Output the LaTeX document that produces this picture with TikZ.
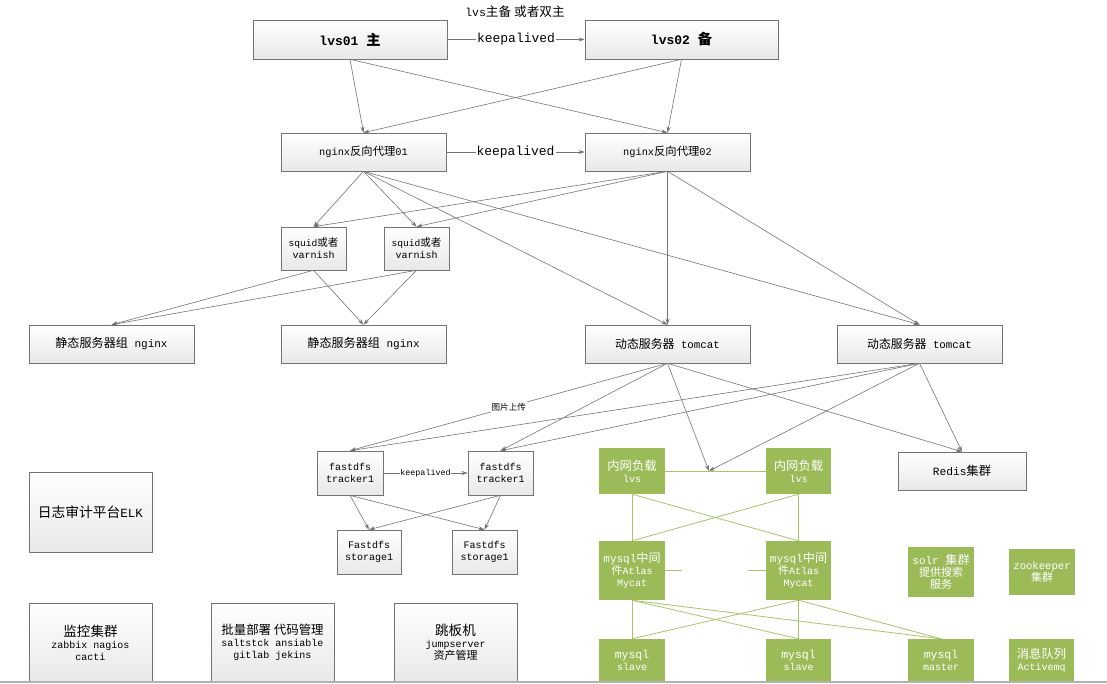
\documentclass[tikz,border=0pt]{standalone}
\usepackage{fontspec}
\setmainfont{Liberation Mono}
\newfontfamily\cjk{Noto Sans CJK SC}[Scale=1.1]
\usetikzlibrary{arrows.meta,shadows}
\definecolor{lineg}{HTML}{747474}
\definecolor{boxg}{HTML}{9BBB59}
\definecolor{grn}{HTML}{A6C46A}
\newcommand\zhx[1]{{\cjk #1}}
\newcommand\fsz[2]{\fontsize{#1}{#2}\selectfont}
\begin{document}
\begin{tikzpicture}[x=1pt,y=1pt,
  gbox/.style={draw=lineg, line width=0.6pt, top color=white, bottom color=black!9,
    drop shadow={shadow xshift=1pt,shadow yshift=-1pt,fill=black!30,opacity=0.5},
    align=center, inner sep=0pt},
  grbox/.style={fill=boxg, text=white, align=center, inner sep=0pt},
  con/.style={draw=lineg, line width=0.6pt, -{Stealth[length=6pt,width=4pt]}},
  gl/.style={draw=grn, line width=0.8pt},
  lbl/.style={fill=white, inner sep=1pt, text=black}]
\useasboundingbox (0,0) rectangle (1107,-684);
\fill[white] (0,0) rectangle (1107,-684);

% title
\node (title) at (515,-12) {\fsz{11.5}{13}lvs\zhx{主备 或者双主}};

% top layer
\node[gbox, minimum width=194pt, minimum height=39pt] (lvs1) at (350,-39.5) {\fsz{13}{15}\bfseries lvs01 \zhx{主}};
\node[gbox, minimum width=193pt, minimum height=39pt] (lvs2) at (681.5,-39.5) {\fsz{13}{15}\bfseries lvs02 \zhx{备}};

\node[gbox, minimum width=165pt, minimum height=38pt] (ng1) at (363.5,-152) {\fsz{10.3}{12}nginx\zhx{反向代理}01};
\node[gbox, minimum width=165pt, minimum height=38pt] (ng2) at (667.5,-152) {\fsz{10.3}{12}nginx\zhx{反向代理}02};

\node[gbox, minimum width=65pt, minimum height=43pt] (sq1) at (313.5,-248.5) {\fsz{9.6}{13}squid\zhx{或者}\\varnish};
\node[gbox, minimum width=65pt, minimum height=43pt] (sq2) at (416.5,-248.5) {\fsz{9.6}{13}squid\zhx{或者}\\varnish};

\node[gbox, minimum width=165pt, minimum height=38pt] (st1) at (111.5,-344) {\fsz{11}{13}\zhx{静态服务器组} nginx};
\node[gbox, minimum width=165pt, minimum height=38pt] (st2) at (363.5,-344) {\fsz{11}{13}\zhx{静态服务器组} nginx};
\node[gbox, minimum width=165pt, minimum height=38pt] (tc1) at (667.5,-344) {\fsz{10.8}{13}\zhx{动态服务器} tomcat};
\node[gbox, minimum width=165pt, minimum height=38pt] (tc2) at (919.5,-344) {\fsz{10.8}{13}\zhx{动态服务器} tomcat};

\node[gbox, minimum width=66pt, minimum height=44pt] (tr1) at (350,-473) {\fsz{10}{14}fastdfs\\tracker1};
\node[gbox, minimum width=65pt, minimum height=44pt] (tr2) at (500.5,-473) {\fsz{10}{14}fastdfs\\tracker1};
\node[gbox, minimum width=64pt, minimum height=44pt] (sg1) at (369,-552) {\fsz{10}{14}Fastdfs\\storage1};
\node[gbox, minimum width=65pt, minimum height=44pt] (sg2) at (484.5,-552) {\fsz{10}{14}Fastdfs\\storage1};

\node[gbox, minimum width=128pt, minimum height=38pt] (redis) at (962,-471) {\fsz{11.2}{13}Redis\zhx{集群}};

% green boxes
\node[grbox, minimum width=66pt, minimum height=46pt] (la) at (632,-471) {\fsz{11.2}{15}\zhx{内网负载}\\lvs};
\node[grbox, minimum width=65pt, minimum height=46pt] (lb) at (798.5,-471) {\fsz{11.2}{15}\zhx{内网负载}\\lvs};
\node[grbox, minimum width=66pt, minimum height=59pt] (ma) at (632,-570.5) {\fsz{11}{14.5}mysql\zhx{中间}\\\zhx{件}Atlas\\Mycat};
\node[grbox, minimum width=65pt, minimum height=59pt] (mb) at (798.5,-570.5) {\fsz{11}{14.5}mysql\zhx{中间}\\\zhx{件}Atlas\\Mycat};
\node[grbox, minimum width=66pt, minimum height=50pt] (solr) at (941,-572) {\fsz{11}{14}solr \zhx{集群}\\\zhx{提供搜索}\\\zhx{服务}};
\node[grbox, minimum width=66pt, minimum height=46pt] (zk) at (1042,-572) {\fsz{10.6}{14}zookeeper\\\zhx{集群}};
\node[grbox, minimum width=66pt, minimum height=43pt] (sa) at (632,-660.5) {\fsz{11.5}{15}mysql\\slave};
\node[grbox, minimum width=65pt, minimum height=43pt] (sb) at (798.5,-660.5) {\fsz{11.5}{15}mysql\\slave};
\node[grbox, minimum width=66pt, minimum height=43pt] (mst) at (941,-660.5) {\fsz{11.5}{15}mysql\\master};
\node[grbox, minimum width=65pt, minimum height=43pt] (mq) at (1041.5,-660.5) {\fsz{11.2}{15}\zhx{消息队列}\\Activemq};

% left boxes
\node[gbox, minimum width=123pt, minimum height=80pt] (elk) at (90.5,-512) {\fsz{12.5}{15}\zhx{日志审计平台}ELK};
\node[gbox, minimum width=123pt, minimum height=79pt] (mon) at (90.5,-642.5) {\fsz{12.3}{16}\zhx{监控集群}\\zabbix nagios\\cacti};
\node[gbox, minimum width=123pt, minimum height=79pt] (bat) at (272.5,-642.5) {\fsz{11.3}{16}\zhx{批量部署 代码管理}\\saltstck ansiable\\gitlab jekins};
\node[gbox, minimum width=123pt, minimum height=79pt] (jmp) at (455.5,-642.5) {\fsz{12.3}{16}\zhx{跳板机}\\jumpserver\\\zhx{资产管理}};

% coordinates
\coordinate (J) at (709,-471);
\coordinate (mA) at (682,-570.5);
\coordinate (mB) at (748,-570.5);

% gray connectors
\draw[con] (lvs1.east) -- node[lbl]{\fsz{13}{15}keepalived} (lvs2.west);
\draw[con] (lvs1.south) -- (ng1.north);
\draw[con] (lvs1.south) -- (ng2.north);
\draw[con] (lvs2.south) -- (ng1.north);
\draw[con] (lvs2.south) -- (ng2.north);
\draw[con] (ng1.east) -- node[lbl]{\fsz{13}{15}keepalived} (ng2.west);
\foreach \t in {sq1,sq2,tc1,tc2} {
  \draw[con] (ng1.south) -- (\t.north);
  \draw[con] (ng2.south) -- (\t.north);
}
\foreach \s in {sq1,sq2} {
  \draw[con] (\s.south) -- (st1.north);
  \draw[con] (\s.south) -- (st2.north);
}
\draw[con] (tc1.south) -- node[lbl, pos=0.5]{\fsz{7.8}{9}\zhx{图片上传}} (tr1.north);
\draw[con] (tc1.south) -- (tr2.north);
\draw[con] (tc1.south) -- (J);
\draw[con] (tc1.south) -- (redis.north);
\draw[con] (tc2.south) -- (tr1.north);
\draw[con] (tc2.south) -- (tr2.north);
\draw[con] (tc2.south) -- (J);
\draw[con] (tc2.south) -- (redis.north);
\draw[con] (tr1.east) -- node[lbl, inner sep=0.5pt]{\fsz{8.4}{10}keepalived} (tr2.west);
\foreach \g in {sg1,sg2} {
  \draw[con] (tr1.south) -- (\g.north);
  \draw[con] (tr2.south) -- (\g.north);
}

% green connectors
\draw[gl] (la.east) -- (lb.west);
\foreach \m in {ma,mb} {
  \draw[gl] (la.south) -- (\m.north);
  \draw[gl] (lb.south) -- (\m.north);
}
\draw[gl] (ma.east) -- (mA);
\draw[gl] (mb.west) -- (mB);
\foreach \s in {sa,sb,mst} {
  \draw[gl] (ma.south) -- (\s.north);
  \draw[gl] (mb.south) -- (\s.north);
}

% bottom edge line
\draw[black!30, line width=1.5pt] (0,-682) -- (1107,-682);
\end{tikzpicture}
\end{document}
